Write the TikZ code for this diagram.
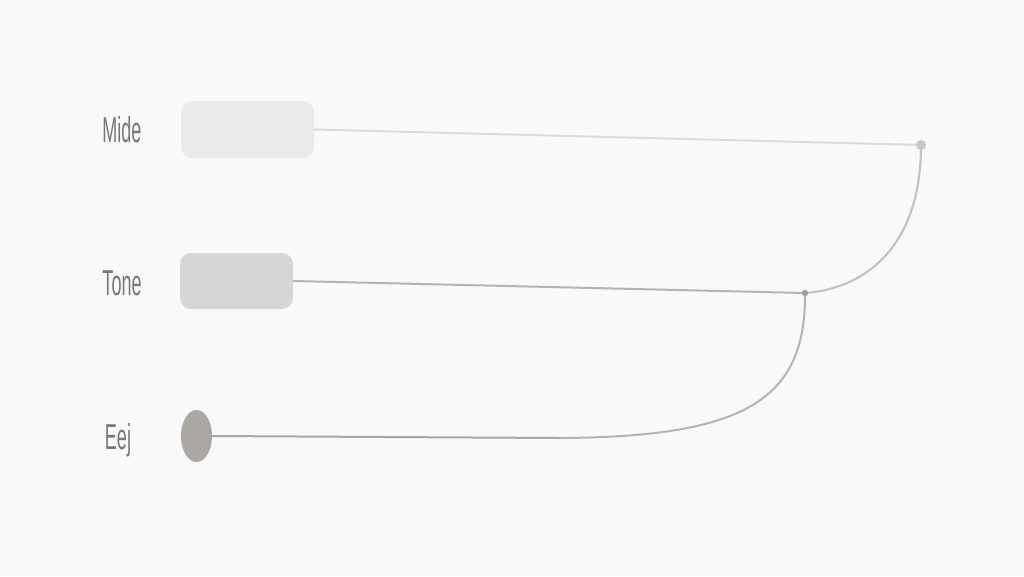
\documentclass[tikz,border=0pt]{standalone}
\usepackage{fontspec}
\setmainfont{Liberation Sans}
\usetikzlibrary{shapes.geometric}
\definecolor{bg}{HTML}{F8F9F8}
\definecolor{boxA}{HTML}{E9EBEB}
\definecolor{boxB}{HTML}{D5D7D6}
\definecolor{boxC}{HTML}{ABA7A2}
\definecolor{lineA}{HTML}{DADCDB}
\definecolor{lineB}{HTML}{B3B4B3}
\definecolor{lineC}{HTML}{AAA8A5}
\definecolor{dotA}{HTML}{C6C7C6}
\definecolor{dotB}{HTML}{9E9E9C}
\definecolor{txt}{HTML}{767978}
\tikzset{
  tagbox/.style={draw=none,rounded corners=11pt,inner sep=0pt},
  lbl/.style={text=txt,font=\fontsize{36}{36}\selectfont,xscale=0.5,inner sep=0pt},
  conn/.style={line width=2pt,line cap=round},
}
\begin{document}
\begin{tikzpicture}[x=1pt,y=-1pt]
\fill[bg] (0,0) rectangle (1024,576);
\useasboundingbox (0,0) rectangle (1024,576);
% boxes
\node[tagbox,fill=boxA,minimum width=133pt,minimum height=57pt] (b1) at (247.5,129.5) {};
\node[tagbox,fill=boxB,minimum width=113pt,minimum height=56pt] (b2) at (236.5,281) {};
\node[ellipse,fill=boxC,inner sep=0pt,minimum width=31pt,minimum height=52pt] (b3) at (196.5,436) {};
% labels
\node[lbl] (l1) at (122,130) {Mide};
\node[lbl] (l2) at (122,283) {Tone};
\node[lbl] (l3) at (118,440) {Eej};
% junctions
\coordinate (j1) at (921,145);
\coordinate (j2) at (805,293);
\coordinate (k3) at (560,438);
% connectors
\draw[conn,lineA] (b1.east) -- (j1);
\draw[conn,lineB!70!lineA] (j1) .. controls (921,250) and (862,289) .. (j2);
\draw[conn,lineB] (b2.east) -- (j2);
\draw[conn,lineB] (j2) .. controls (806,400) and (745,437) .. (k3);
\draw[conn,lineC] (k3) -- (b3.east);
\fill[dotA] (j1) circle (5pt);
\fill[dotB] (j2) circle (3.2pt);
\end{tikzpicture}
\end{document}
